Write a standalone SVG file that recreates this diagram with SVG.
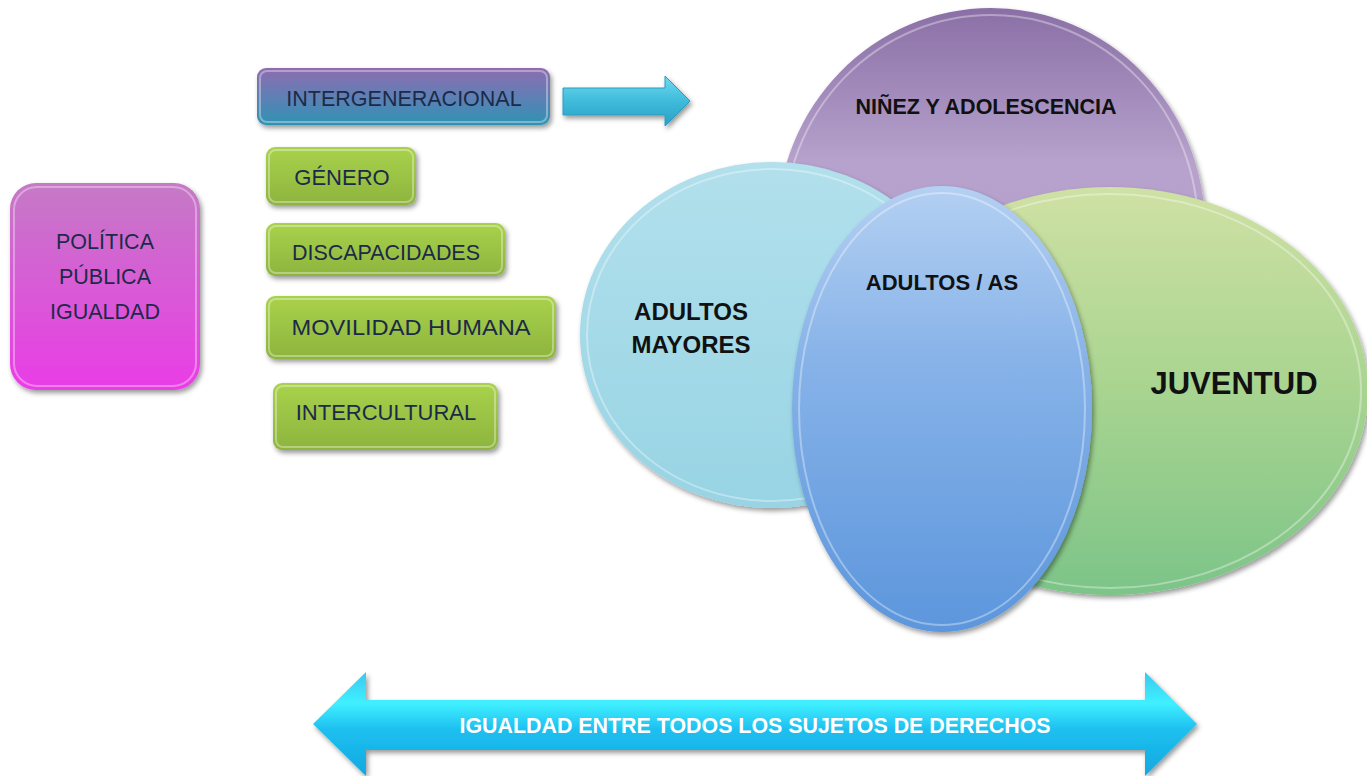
<svg xmlns="http://www.w3.org/2000/svg" width="1367" height="776" viewBox="0 0 1367 776">
<defs>
<linearGradient id="gPink" x1="0" y1="0" x2="0" y2="1"><stop offset="0" stop-color="#c57ac6"/><stop offset="1" stop-color="#ea3ce6"/></linearGradient>
<linearGradient id="gInter" x1="0" y1="0" x2="0" y2="1"><stop offset="0" stop-color="#8e6cb0"/><stop offset="0.5" stop-color="#5f7fb5"/><stop offset="1" stop-color="#2f93b3"/></linearGradient>
<linearGradient id="gGreen" x1="0" y1="0" x2="0" y2="1"><stop offset="0" stop-color="#a9d24c"/><stop offset="1" stop-color="#8db43d"/></linearGradient>
<linearGradient id="gCyan" x1="0" y1="0" x2="0" y2="1"><stop offset="0" stop-color="#6fdcf0"/><stop offset="0.5" stop-color="#3fbbdb"/><stop offset="1" stop-color="#2aa0c4"/></linearGradient>
<linearGradient id="gBig" x1="0" y1="0" x2="0" y2="1"><stop offset="0" stop-color="#38c8f0"/><stop offset="0.3" stop-color="#40f0ff"/><stop offset="0.55" stop-color="#1ec0f0"/><stop offset="1" stop-color="#10a8e0"/></linearGradient>
<linearGradient id="gPurple" x1="0" y1="0" x2="0" y2="1"><stop offset="0" stop-color="#8a6fa6"/><stop offset="0.35" stop-color="#b6a2cc"/><stop offset="1" stop-color="#b49fca"/></linearGradient>
<linearGradient id="gTeal" x1="0" y1="0" x2="0" y2="1"><stop offset="0" stop-color="#b2e0ec"/><stop offset="1" stop-color="#98d4e4"/></linearGradient>
<linearGradient id="gJuv" x1="0" y1="0" x2="0" y2="1"><stop offset="0" stop-color="#cfe1a4"/><stop offset="0.5" stop-color="#a8d490"/><stop offset="1" stop-color="#7cc488"/></linearGradient>
<linearGradient id="gBlue" x1="0" y1="0" x2="0" y2="1"><stop offset="0" stop-color="#b4d0f2"/><stop offset="0.4" stop-color="#86b2e8"/><stop offset="1" stop-color="#5c96dc"/></linearGradient>
<filter id="sh" x="-20%" y="-20%" width="140%" height="140%"><feDropShadow dx="2" dy="3" stdDeviation="2.5" flood-color="#000" flood-opacity="0.4"/></filter>
</defs>
<style>
.lbl{font-family:"Liberation Sans",Arial,sans-serif;fill:#1c2a48;text-anchor:middle;}
.bold{font-family:"Liberation Sans",Arial,sans-serif;font-weight:bold;fill:#111;text-anchor:middle;}
.box{filter:url(#sh);}
.rim{fill:none;stroke:#ffffff;stroke-opacity:0.35;stroke-width:2;}
</style>

<g id="politica">
<rect class="box" x="10" y="183" width="190" height="207" rx="26" fill="url(#gPink)"/>
<rect class="rim" x="14" y="187" width="182" height="199" rx="23"/>
<text class="lbl" font-size="21.5" x="105" y="249">POLÍTICA</text>
<text class="lbl" font-size="21.5" x="105" y="284">PÚBLICA</text>
<text class="lbl" font-size="21.5" x="105" y="319">IGUALDAD</text>
</g>

<g id="intergeneracional">
<rect class="box" x="257" y="68" width="293" height="57" rx="9" fill="url(#gInter)"/>
<rect class="rim" x="260" y="71" width="287" height="51" rx="7"/>
<text class="lbl" font-size="21.5" x="404" y="106">INTERGENERACIONAL</text>
</g>

<g id="genero">
<rect class="box" x="266" y="147" width="150" height="58" rx="9" fill="url(#gGreen)"/>
<rect class="rim" x="269" y="150" width="144" height="52" rx="7"/>
<text class="lbl" font-size="22" x="342" y="185">GÉNERO</text>
</g>

<g id="discapacidades">
<rect class="box" x="266" y="223" width="239" height="53" rx="9" fill="url(#gGreen)"/>
<rect class="rim" x="269" y="226" width="233" height="47" rx="7"/>
<text class="lbl" font-size="22" x="386" y="260" textLength="188" lengthAdjust="spacingAndGlyphs">DISCAPACIDADES</text>
</g>

<g id="movilidad">
<rect class="box" x="266" y="296" width="290" height="63" rx="9" fill="url(#gGreen)"/>
<rect class="rim" x="269" y="299" width="284" height="57" rx="7"/>
<text class="lbl" font-size="22" x="411" y="335" textLength="239" lengthAdjust="spacingAndGlyphs">MOVILIDAD HUMANA</text>
</g>

<g id="intercultural">
<rect class="box" x="273" y="383" width="225" height="67" rx="9" fill="url(#gGreen)"/>
<rect class="rim" x="276" y="386" width="219" height="61" rx="7"/>
<text class="lbl" font-size="22" x="386" y="420">INTERCULTURAL</text>
</g>

<g id="connectors">
<path class="box" d="M563 88 L665 88 L665 76 L690 101 L665 126 L665 115 L563 115 Z" fill="url(#gCyan)" stroke="#2a9cc0" stroke-width="1"/>
<path class="box" d="M313 724 L366 672 L366 700 L1145 700 L1145 672 L1197 724 L1145 776 L1145 750 L366 750 L366 776 Z" fill="url(#gBig)"/>
</g>

<g id="ninez">
<ellipse class="box" cx="991" cy="228" rx="214" ry="220" fill="url(#gPurple)"/>
<ellipse class="rim" cx="991" cy="228" rx="207" ry="213"/>
<text class="bold" font-size="21.5" x="986" y="114">NIÑEZ Y ADOLESCENCIA</text>
</g>

<g id="adultos-mayores">
<ellipse class="box" cx="772" cy="335" rx="192" ry="173" fill="url(#gTeal)"/>
<ellipse class="rim" cx="772" cy="335" rx="185" ry="166"/>
<text class="bold" font-size="24" x="691" y="320">ADULTOS</text>
<text class="bold" font-size="24" x="691" y="353">MAYORES</text>
</g>

<g id="juventud">
<ellipse class="box" cx="1110" cy="391" rx="258" ry="204" fill="url(#gJuv)"/>
<ellipse class="rim" cx="1110" cy="391" rx="251" ry="197"/>
<text class="bold" font-size="31" x="1234" y="394">JUVENTUD</text>
</g>

<g id="adultos">
<ellipse class="box" cx="942" cy="409" rx="150" ry="223" fill="url(#gBlue)"/>
<ellipse class="rim" cx="942" cy="409" rx="143" ry="216"/>
<text class="bold" font-size="22" x="942" y="290">ADULTOS / AS</text>
</g>

<g id="igualdad-label">
<text class="bold" font-size="21.4" x="755" y="733" style="fill:#ffffff">IGUALDAD ENTRE TODOS LOS SUJETOS DE DERECHOS</text>
</g>
</svg>
